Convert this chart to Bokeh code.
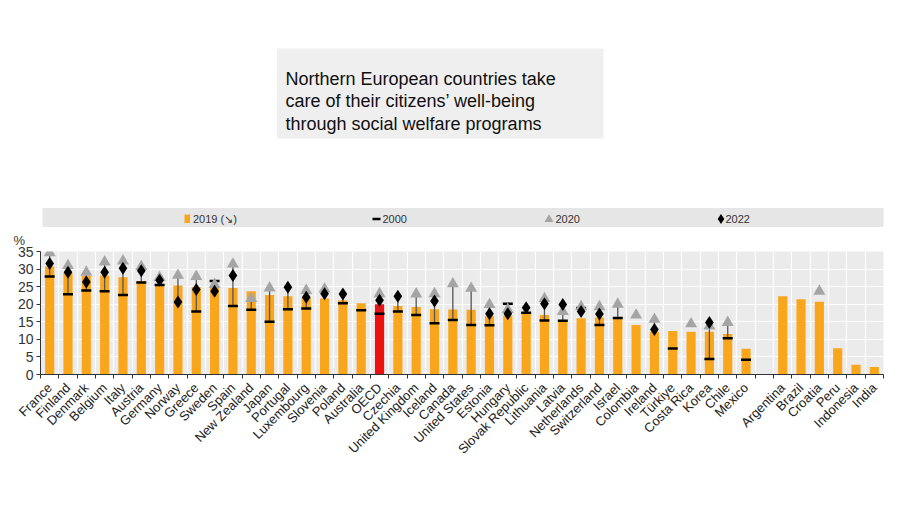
import math
import numpy as np
from bokeh.plotting import figure
from bokeh.layouts import column
from bokeh.models import Range1d, FixedTicker, ColumnDataSource, Title
from bokeh.core.properties import value
from bokeh.embed import file_html
from bokeh.resources import INLINE

countries = ["France", "Finland", "Denmark", "Belgium", "Italy", "Austria", "Germany", "Norway",
             "Greece", "Sweden", "Spain", "New Zealand", "Japan", "Portugal", "Luxembourg",
             "Slovenia", "Poland", "Australia", "OECD", "Czechia", "United Kingdom", "Iceland",
             "Canada", "United States", "Estonia", "Hungary", "Slovak Republic", "Lithuania",
             "Latvia", "Netherlands", "Switzerland", "Israel", "Colombia", "Ireland", "Türkiye",
             "Costa Rica", "Korea", "Chile", "Mexico", "",
             "Argentina", "Brazil", "Croatia", "Peru", "Indonesia", "India"]

v2019 = [30.7, 28.8, 28.0, 28.2, 27.7, 26.6, 25.7, 25.3, 24.9, 24.7, 24.6, 23.7, 22.6, 22.3, 21.9,
         21.6, 21.1, 20.3, 20.0, 19.5, 19.2, 18.6, 18.5, 18.4, 16.6, 16.7, 17.6, 16.9, 15.4, 16.0,
         16.2, 16.1, 14.1, 12.2, 12.4, 12.2, 12.2, 11.5, 7.3, None,
         22.3, 21.4, 20.7, 7.5, 2.8, 2.1]

v2000 = [27.9, 22.8, 23.9, 23.7, 22.6, 26.2, 25.5, None, 17.9, 26.6, 19.5, 18.4, 15.0, 18.6, 18.8,
         None, 20.3, 18.3, 17.3, 17.9, 16.9, 14.6, 15.5, 14.1, 14.0, 20.1, 17.6, 15.4, 15.3, 18.9,
         14.1, 16.1, None, None, 7.4, None, 4.4, 10.3, 4.2, None,
         None, None, None, None, None, None]

v2020 = [34.6, 31.0, 29.1, 32.0, 32.3, 30.7, 27.6, 28.2, 27.9, 25.6, 31.4, 21.6, 24.6, None, 23.9,
         24.3, None, None, 23.0, None, 22.9, 23.0, 25.8, 24.5, 19.9, 18.5, None, 21.6, 17.9, 19.3,
         19.3, 20.0, 16.9, 15.7, None, 14.4, 13.8, 14.8, None, None,
         None, None, 23.7, None, None, None]

v2022 = [31.6, 29.1, 26.3, 29.1, 30.2, 29.5, 26.8, 20.6, 24.2, 23.7, 28.2, None, None, 24.8, 22.0,
         23.0, 22.9, None, 21.1, 22.3, None, 20.9, None, None, 17.3, 17.3, 19.0, 20.1, 19.9, 17.9,
         17.2, None, None, 12.8, None, None, 14.8, None, None, None,
         None, None, None, None, None, None]

yticks = [0, 5, 10, 15, 20, 25, 30, 35]
title_lines = ["Northern European countries take",
               "care of their citizens\u2019 well-being",
               "through social welfare programs"]
legend_labels = ["2019 (\u2198)", "2000", "2020", "2022"]

FONT = "Liberation Sans"
ORANGE = "#f9a61c"
RED = "#ee1111"
GREY_TRI = "#a5a5a5"

# pixel geometry of the chart frame
LEFT, RIGHT = 40, 17
FRAME_L, FRAME_R = LEFT, 900 - RIGHT
TOP_H = 227
CHART_TOP = 250 - TOP_H


def arr(vals):
    return np.array([np.nan if v is None else v for v in vals], dtype=float)


n = len(countries)
x = np.arange(n)
a19, a00, a20, a22 = arr(v2019), arr(v2000), arr(v2020), arr(v2022)
stack = np.vstack([a00, a20, a22])
cnt = np.sum(~np.isnan(stack), axis=0)
lo = np.where(cnt >= 2, np.min(np.where(np.isnan(stack), np.inf, stack), axis=0), np.nan)
hi = np.where(cnt >= 2, np.max(np.where(np.isnan(stack), -np.inf, stack), axis=0), np.nan)

colors = [RED if c == "OECD" else ORANGE for c in countries]
src = ColumnDataSource(dict(x=x, v19=a19, v00=a00, v20=a20, v22=a22, lo=lo, hi=hi, color=colors))

# ---------------- header figure (title box, legend band) ----------------
hdr = figure(width=900, height=TOP_H, output_backend="svg", toolbar_location=None,
             x_range=Range1d(FRAME_L, FRAME_R), y_range=Range1d(TOP_H, 0),
             min_border_left=LEFT, min_border_right=RIGHT, min_border_top=0, min_border_bottom=0)
hdr.axis.visible = False
hdr.grid.visible = False
hdr.outline_line_color = None
hdr.background_fill_color = "white"
hdr.border_fill_color = "white"

# title box
hdr.quad(left=[276.5], right=[603], top=[48], bottom=[138], fill_color="#efefef", line_color=None)
hdr.text(x=[285, 285, 285], y=[78, 100.5, 123], text=title_lines,
         text_font=value(FONT), text_font_size="18px", text_color="#111111",
         text_baseline="alphabetic", text_align="left")

# legend band
hdr.quad(left=[42], right=[884], top=[207.5], bottom=[228.5], fill_color="#e6e6e6", line_color=None)
hdr.quad(left=[184], right=[189.5], top=[214], bottom=[222.5], fill_color=ORANGE, line_color=None)
hdr.scatter(x=[376], y=[218.5], marker="dash", size=8, line_color="black", line_width=2.5)
hdr.scatter(x=[548.5], y=[219], marker="triangle", size=9, fill_color=GREY_TRI, line_color=None)
hdr.scatter(x=[720.5], y=[218.5], marker="diamond", size=10, fill_color="black", line_color=None)
hdr.text(x=[192.5, 382, 555, 725], y=[218.5] * 4, text=legend_labels,
         text_font=value(FONT), text_font_size="11px", text_color="#333333",
         text_baseline="middle", text_align="left")

# ---------------- chart figure ----------------
p = figure(width=900, height=506 - TOP_H, output_backend="svg", toolbar_location=None,
           x_range=Range1d(-0.5, n - 0.5), y_range=Range1d(0, 35),
           min_border_left=LEFT, min_border_right=RIGHT, min_border_top=CHART_TOP,
           min_border_bottom=132)
p.background_fill_color = "#ebebeb"
p.border_fill_color = "white"
p.outline_line_color = None

# unit label "%" above the y axis
p.add_layout(Title(text="%", align="left", offset=-27, standoff=7,
                   text_font=FONT, text_font_size="13px", text_font_style="normal",
                   text_color="#333333"), "above")

p.vbar(x="x", top="v19", bottom=0, width=0.5, fill_color="color", line_color=None, source=src)
p.segment(x0="x", y0="lo", x1="x", y1="hi", line_color="#555555", line_width=1.3, source=src)
p.scatter(x="x", y="v00", marker="dash", size=10, line_color="black", line_width=2.5, source=src)
p.scatter(x="x", y="v20", marker="triangle", size=12, fill_color=GREY_TRI, line_color=None, source=src)
p.scatter(x="x", y="v22", marker="diamond", size=13, fill_color="black", line_color=None, source=src)

p.yaxis.ticker = FixedTicker(ticks=yticks)
p.yaxis.major_label_text_font = FONT
p.yaxis.major_label_text_font_size = "14px"
p.yaxis.major_label_text_color = "#333333"
p.yaxis.axis_line_color = "#333333"
p.yaxis.major_tick_line_color = "#333333"
p.yaxis.major_tick_in = 0
p.yaxis.major_tick_out = 4
p.yaxis.minor_tick_line_color = None
p.yaxis.major_label_standoff = 3

label_ticks = [i for i, c in enumerate(countries) if c]
p.xaxis.ticker = FixedTicker(ticks=label_ticks, minor_ticks=[i - 0.5 for i in range(n + 1)])
p.xaxis.major_label_overrides = {i: countries[i] for i in label_ticks}
p.xaxis.major_label_orientation = math.pi / 4
p.xaxis.major_label_text_font = FONT
p.xaxis.major_label_text_font_size = "13px"
p.xaxis.major_label_text_color = "#222222"
p.xaxis.major_tick_line_color = None
p.xaxis.minor_tick_line_color = "#333333"
p.xaxis.minor_tick_in = 0
p.xaxis.minor_tick_out = 4
p.xaxis.axis_line_color = "#333333"
p.xaxis.major_label_standoff = 5

p.xgrid.grid_line_color = None
p.xgrid.minor_grid_line_color = "white"
p.xgrid.minor_grid_line_width = 1.2
p.ygrid.grid_line_color = "white"
p.ygrid.grid_line_width = 1.2

layout = column(hdr, p, spacing=0)
open("out.html", "w").write(file_html(layout, INLINE))
